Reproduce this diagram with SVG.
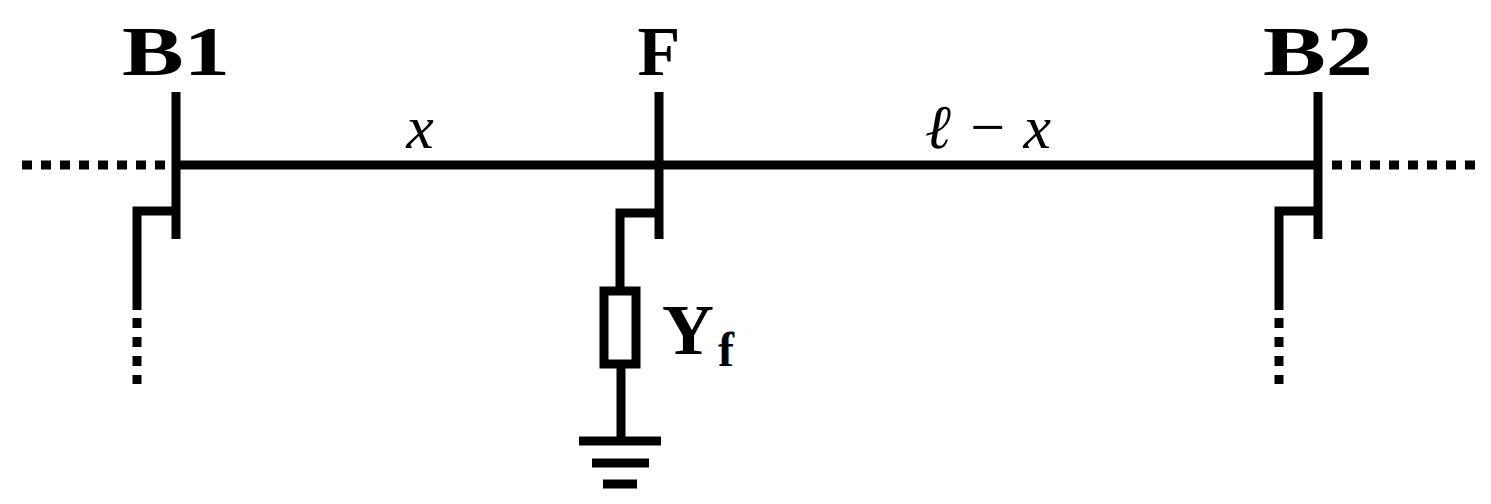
<svg xmlns="http://www.w3.org/2000/svg" width="1491" height="504" viewBox="0 0 1491 504">
<style>
.l{stroke:#000;stroke-width:9;fill:none}
.d{stroke:#000;stroke-width:9;fill:none;stroke-dasharray:10 9}
.b{font-family:"Liberation Serif",serif;font-weight:bold;font-size:70px;text-anchor:middle}
.i{font-family:"Liberation Serif",serif;font-style:italic;font-size:62px;text-anchor:middle}
</style>
<rect width="1491" height="504" fill="#fff"/>
<g id="connectors">
<line class="l" x1="176" y1="165" x2="1318" y2="165"/>
<line class="d" x1="22" y1="165" x2="168" y2="165"/>
<line class="d" x1="1332" y1="165" x2="1475" y2="165"/>
<polyline class="l" points="176,211 137,211 137,310"/>
<line class="d" x1="137" y1="318" x2="137" y2="384"/>
<polyline class="l" points="1318,211 1279,211 1279,310"/>
<line class="d" x1="1279" y1="318" x2="1279" y2="384"/>
<polyline class="l" points="659,213 620,213 620,287"/>
<line class="l" x1="621" y1="367" x2="621" y2="438"/>
</g>
<g id="B1"><line class="l" x1="176" y1="92" x2="176" y2="239"/><text class="b" x="176" y="75" textLength="108" lengthAdjust="spacingAndGlyphs">B1</text></g>
<g id="F"><line class="l" x1="659" y1="92" x2="659" y2="239"/><text class="b" x="659" y="75">F</text></g>
<g id="B2"><line class="l" x1="1318" y1="92" x2="1318" y2="239"/><text class="b" x="1318" y="75" textLength="110" lengthAdjust="spacingAndGlyphs">B2</text></g>
<text class="i" x="420" y="148">x</text>
<text class="i" x="988" y="148">ℓ − x</text>
<g id="Yf">
<rect x="604" y="291" width="32" height="73" fill="none" stroke="#000" stroke-width="9"/>
<text font-family="Liberation Serif,serif" font-weight="bold" font-size="72" x="662" y="354">Y<tspan font-size="48" dx="4" dy="12">f</tspan></text>
</g>
<g id="ground">
<line class="l" x1="579" y1="441" x2="661" y2="441"/>
<line class="l" x1="592" y1="463" x2="649" y2="463"/>
<line class="l" x1="603" y1="484" x2="637" y2="484"/>
</g>
</svg>
